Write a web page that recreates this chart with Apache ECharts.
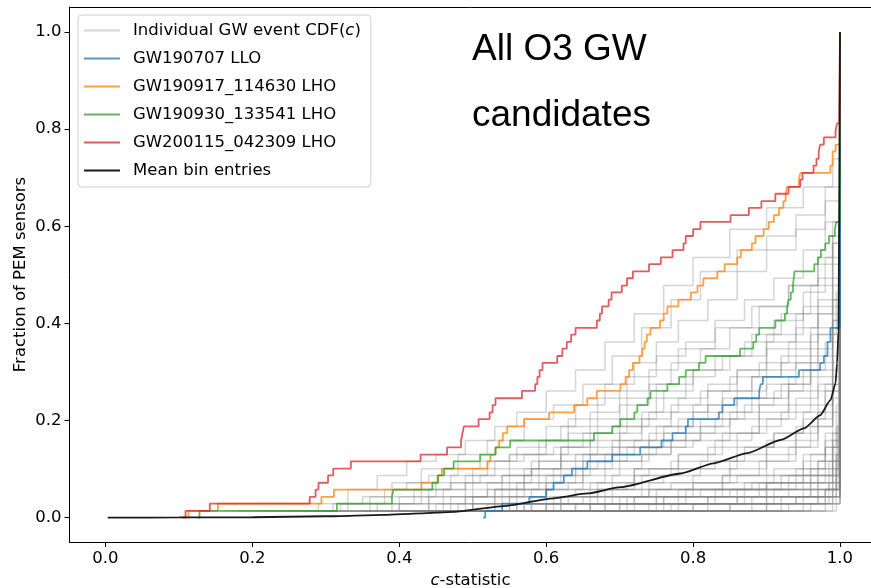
<!DOCTYPE html>
<html>
<head>
<meta charset="utf-8">
<script src="https://cdn.jsdelivr.net/npm/echarts@6/dist/echarts.min.js"></script>
<style>
html,body{margin:0;padding:0;background:#fff;overflow:hidden;}
#chart{width:871px;height:588px;}
</style>
</head>
<body>
<div id="chart"></div>
<script>
// ---------- data ----------
const xTicks = [0.0, 0.2, 0.4, 0.6, 0.8, 1.0];
const yTicks = [0.0, 0.2, 0.4, 0.6, 0.8, 1.0];
const legendNames = ['Individual GW event CDF(c)', 'GW190707 LLO', 'GW190917_114630 LHO', 'GW190930_133541 LHO', 'GW200115_042309 LHO', 'Mean bin entries'];
const annotationLines = ['All O3 GW', 'candidates'];

// individual event CDFs (flat lists: c, fraction, c, fraction, ...)
const grayEvents = [
  [0.16,.014, 0.29,.029, 0.33,.058, 0.37,.087, 0.41,.116, 0.45,.13, 0.49,.159, 0.53,.188, 0.56,.217, 0.6,.261, 0.64,.304, 0.68,.362, 0.72,.42, 0.76,.478, 0.8,.536, 0.85,.594, 0.9,.638, 0.95,.681, 0.99,.739, 1,1],
  [0.22,.014, 0.31,.029, 0.35,.043, 0.39,.072, 0.43,.101, 0.48,.13, 0.52,.159, 0.57,.203, 0.61,.232, 0.65,.275, 0.69,.333, 0.73,.391, 0.77,.449, 0.81,.507, 0.86,.551, 0.9,.58, 0.94,.623, 0.98,.681, 1,1],
  [0.25,.014, 0.36,.029, 0.42,.058, 0.47,.087, 0.52,.116, 0.56,.145, 0.6,.188, 0.64,.232, 0.68,.275, 0.72,.319, 0.75,.362, 0.78,.406, 0.82,.449, 0.86,.507, 0.9,.551, 0.94,.594, 0.98,.652, 1,1],
  [0.30,.014, 0.40,.043, 0.45,.072, 0.5,.101, 0.55,.13, 0.6,.159, 0.63,.203, 0.67,.246, 0.71,.29, 0.75,.333, 0.79,.362, 0.83,.406, 0.87,.449, 0.91,.493, 0.95,.551, 0.98,.609, 1,1],
  [0.33,.014, 0.44,.043, 0.49,.072, 0.54,.087, 0.58,.116, 0.62,.145, 0.66,.188, 0.7,.232, 0.74,.275, 0.77,.319, 0.81,.348, 0.85,.391, 0.89,.435, 0.93,.478, 0.97,.522, 0.99,.58, 1,1],
  [0.38,.014, 0.46,.043, 0.52,.072, 0.57,.101, 0.62,.13, 0.67,.174, 0.71,.203, 0.75,.246, 0.79,.29, 0.83,.333, 0.87,.362, 0.91,.406, 0.95,.464, 0.98,.536, 1,1],
  [0.18,.014, 0.33,.029, 0.36,.043, 0.38,.058, 0.41,.072, 0.44,.087, 0.48,.101, 0.51,.116, 0.55,.13, 0.59,.159, 0.62,.188, 0.66,.217, 0.7,.261, 0.74,.304, 0.78,.348, 0.83,.391, 0.88,.435, 0.93,.478, 0.97,.536, 0.99,.609, 1,1],
  [0.30,.014, 0.37,.029, 0.43,.043, 0.46,.058, 0.5,.072, 0.54,.087, 0.58,.101, 0.62,.116, 0.66,.145, 0.7,.174, 0.73,.217, 0.76,.261, 0.8,.304, 0.84,.333, 0.88,.377, 0.92,.42, 0.96,.478, 0.99,.565, 1,1],
  [0.35,.014, 0.47,.029, 0.53,.058, 0.59,.087, 0.64,.116, 0.69,.145, 0.74,.174, 0.78,.203, 0.82,.232, 0.86,.261, 0.9,.304, 0.94,.348, 0.97,.42, 1,1],
  [0.40,.014, 0.5,.043, 0.56,.072, 0.61,.087, 0.66,.13, 0.7,.159, 0.75,.188, 0.8,.217, 0.84,.246, 0.88,.29, 0.92,.333, 0.96,.391, 0.99,.478, 1,1],
  [0.42,.014, 0.52,.029, 0.58,.058, 0.63,.072, 0.68,.101, 0.73,.13, 0.77,.159, 0.81,.188, 0.85,.217, 0.89,.246, 0.93,.29, 0.97,.348, 0.99,.449, 1,1],
  [0.45,.014, 0.55,.043, 0.6,.058, 0.65,.087, 0.7,.116, 0.74,.145, 0.79,.174, 0.83,.203, 0.87,.232, 0.91,.261, 0.95,.304, 0.98,.362, 1,1],
  [0.47,.014, 0.57,.029, 0.62,.043, 0.67,.072, 0.72,.101, 0.77,.116, 0.82,.145, 0.86,.174, 0.9,.203, 0.94,.246, 0.97,.29, 0.99,.391, 1,1],
  [0.48,.014, 0.56,.029, 0.6,.043, 0.64,.058, 0.69,.087, 0.74,.101, 0.78,.13, 0.83,.159, 0.88,.188, 0.92,.217, 0.96,.261, 0.99,.319, 1,1],
  [0.50,.014, 0.58,.029, 0.63,.043, 0.68,.058, 0.73,.087, 0.78,.101, 0.83,.116, 0.87,.145, 0.91,.174, 0.95,.203, 0.98,.261, 1,1],
  [0.44,.014, 0.5,.029, 0.55,.058, 0.6,.087, 0.65,.116, 0.7,.13, 0.75,.145, 0.8,.159, 0.85,.174, 0.89,.203, 0.93,.232, 0.97,.275, 0.99,.333, 1,1],
  [0.52,.014, 0.6,.029, 0.66,.058, 0.71,.072, 0.76,.087, 0.81,.101, 0.86,.13, 0.9,.159, 0.94,.188, 0.97,.232, 0.99,.304, 1,1],
  [0.40,.014, 0.48,.029, 0.54,.043, 0.6,.058, 0.66,.072, 0.72,.101, 0.78,.13, 0.84,.174, 0.89,.217, 0.93,.275, 0.96,.333, 0.99,.406, 1,1],
  [0.55,.014, 0.62,.029, 0.68,.043, 0.74,.072, 0.8,.087, 0.85,.116, 0.9,.145, 0.94,.174, 0.97,.217, 0.99,.29, 1,1],
  [0.58,.014, 0.66,.029, 0.72,.043, 0.78,.058, 0.84,.087, 0.89,.116, 0.93,.145, 0.96,.188, 0.99,.261, 1,1],
  [0.45,.014, 0.62,.029, 0.75,.043, 0.85,.058, 0.92,.087, 0.96,.13, 0.99,.217, 1,1],
  [0.50,.014, 0.7,.029, 0.82,.043, 0.9,.072, 0.95,.101, 0.98,.159, 1,1],
  [0.47,.014, 0.58,.029, 0.7,.043, 0.8,.058, 0.88,.072, 0.94,.101, 0.98,.145, 0.995,.232, 1,1],
  [0.55,.014, 0.68,.029, 0.78,.043, 0.86,.058, 0.93,.072, 0.97,.116, 0.995,.188, 1,1],
  [0.60,.014, 0.75,.029, 0.87,.043, 0.95,.058, 0.985,.087, 0.998,.145, 1,1],
  [0.40,.014, 0.55,.029, 0.65,.043, 0.73,.058, 0.8,.072, 0.86,.087, 0.91,.101, 0.95,.13, 0.98,.174, 1,1],
  [0.48,.014, 0.6,.029, 0.72,.043, 0.83,.058, 0.9,.072, 0.96,.087, 0.99,.13, 1,1],
  [0.65,.014, 0.8,.029, 0.9,.043, 0.96,.058, 0.99,.101, 1,1],
  [0.52,.014, 0.66,.029, 0.79,.043, 0.89,.058, 0.95,.072, 0.99,.116, 1,1],
  [0.70,.014, 0.85,.029, 0.94,.043, 0.985,.072, 1,1],
  [0.46,.014, 0.53,.029, 0.61,.043, 0.69,.058, 0.77,.072, 0.84,.087, 0.9,.116, 0.94,.145, 0.97,.188, 0.99,.246, 1,1],
  [0.56,.014, 0.64,.029, 0.71,.043, 0.79,.058, 0.87,.072, 0.93,.087, 0.97,.116, 0.99,.174, 1,1],
  [0.62,.014, 0.72,.029, 0.82,.043, 0.9,.058, 0.96,.072, 0.99,.087, 1,1],
  [0.35,.014, 0.5,.029, 0.62,.043, 0.74,.058, 0.84,.072, 0.91,.087, 0.96,.101, 0.99,.159, 1,1],
  [0.50,.014, 0.85,.029, 0.97,.043, 0.995,.072, 1,1],
  [0.60,.014, 0.93,.029, 0.99,.058, 1,1],
  [0.70,.014, 0.96,.029, 0.995,.043, 1,1],
  [0.45,.014, 0.8,.029, 0.95,.043, 0.99,.058, 1,1],
  [0.80,.014, 0.98,.029, 1,1],
  [0.55,.014, 0.9,.029, 0.985,.043, 1,1],
  [0.90,.014, 0.995,.029, 1,1],
  [0.65,.014, 0.88,.029, 0.97,.043, 0.995,.087, 1,1],
  [0.75,.014, 0.95,.029, 0.99,.043, 1,1],
  [0.58,.014, 0.78,.029, 0.92,.043, 0.98,.058, 0.998,.101, 1,1],
  [0.85,.014, 0.99,.029, 1,1],
  [0.40,.014, 0.7,.029, 0.9,.043, 0.98,.058, 1,1],
  [0.48,.014, 0.66,.029, 0.86,.043, 0.96,.058, 0.995,.116, 1,1],
  [0.62,.014, 0.82,.029, 0.94,.043, 0.99,.072, 1,1],
  [0.53,.014, 0.74,.029, 0.88,.043, 0.97,.072, 0.995,.13, 1,1],
  [0.72,.014, 0.9,.029, 0.98,.043, 1,1],
  [0.43,.014, 0.6,.029, 0.76,.043, 0.87,.058, 0.94,.072, 0.98,.101, 0.997,.188, 1,1],
  [0.57,.014, 0.77,.029, 0.91,.043, 0.97,.058, 0.995,.101, 1,1],
  [0.38,.014, 0.45,.029, 0.5,.058, 0.55,.087, 0.59,.13, 0.63,.174, 0.67,.203, 0.71,.246, 0.75,.275, 0.8,.304, 0.85,.333, 0.9,.377, 0.95,.435, 0.99,.522, 1,1],
  [0.42,.014, 0.49,.043, 0.54,.072, 0.58,.101, 0.62,.145, 0.66,.159, 0.7,.188, 0.74,.217, 0.78,.246, 0.82,.275, 0.86,.304, 0.9,.348, 0.94,.391, 0.97,.449, 1,1],
  [0.28,.014, 0.39,.029, 0.44,.058, 0.49,.087, 0.53,.116, 0.57,.13, 0.61,.145, 0.65,.174, 0.69,.188, 0.73,.203, 0.77,.232, 0.81,.261, 0.85,.29, 0.89,.319, 0.93,.362, 0.97,.42, 0.99,.493, 1,1],
  [0.46,.014, 0.53,.043, 0.57,.058, 0.61,.072, 0.64,.101, 0.68,.13, 0.72,.159, 0.76,.188, 0.8,.232, 0.84,.261, 0.88,.29, 0.92,.319, 0.96,.377, 0.99,.435, 1,1],
  [0.50,.014, 0.56,.043, 0.6,.072, 0.65,.101, 0.69,.116, 0.73,.13, 0.77,.159, 0.81,.174, 0.85,.203, 0.89,.232, 0.93,.261, 0.96,.304, 0.99,.377, 1,1],
  [0.36,.014, 0.44,.029, 0.49,.043, 0.53,.058, 0.57,.072, 0.62,.101, 0.67,.116, 0.71,.145, 0.76,.174, 0.81,.203, 0.86,.246, 0.9,.275, 0.94,.319, 0.97,.377, 0.995,.464, 1,1],
  [0.54,.014, 0.61,.029, 0.67,.058, 0.72,.087, 0.77,.101, 0.81,.116, 0.86,.145, 0.91,.174, 0.95,.217, 0.98,.275, 1,1],
  [0.60,.014, 0.68,.029, 0.75,.058, 0.8,.072, 0.85,.101, 0.9,.13, 0.94,.159, 0.97,.203, 0.99,.275, 1,1],
  [0.20,.014, 0.32,.029, 0.38,.043, 0.43,.058, 0.47,.072, 0.51,.087, 0.55,.101, 0.59,.116, 0.64,.13, 0.69,.159, 0.73,.188, 0.77,.217, 0.82,.261, 0.86,.304, 0.9,.362, 0.94,.42, 0.97,.493, 0.99,.565, 1,1],
  [0.27,.014, 0.40,.029, 0.47,.043, 0.52,.058, 0.57,.087, 0.61,.101, 0.65,.13, 0.7,.145, 0.74,.159, 0.79,.188, 0.84,.217, 0.88,.246, 0.92,.275, 0.96,.319, 0.99,.406, 1,1],
  [0.51,.014, 0.64,.029, 0.76,.043, 0.84,.058, 0.9,.087, 0.95,.116, 0.98,.145, 1,1],
  [0.44,.014, 0.57,.029, 0.69,.043, 0.81,.058, 0.89,.072, 0.95,.087, 0.985,.116, 1,1],
  [0.66,.014, 0.76,.029, 0.86,.043, 0.93,.058, 0.97,.087, 0.995,.13, 1,1],
  [0.59,.014, 0.71,.029, 0.83,.043, 0.91,.058, 0.96,.087, 0.99,.145, 1,1],
  [0.78,.014, 0.92,.029, 0.98,.058, 1,1]
];

const gw190707LLO = [[0.514,0],[0.517,0.014],[0.54,0.029],[0.577,0.043],[0.6,0.058],[0.61,0.072],[0.624,0.087],[0.635,0.101],[0.656,0.116],[0.69,0.13],[0.728,0.145],[0.757,0.159],[0.772,0.174],[0.79,0.188],[0.793,0.203],[0.835,0.217],[0.84,0.232],[0.856,0.246],[0.89,0.261],[0.892,0.275],[0.895,0.29],[0.944,0.304],[0.973,0.319],[0.978,0.333],[0.983,0.362],[0.987,0.391],[1.0,1.0]];

const gw190917LHO = [[0.11,0],[0.113,0.014],[0.153,0.029],[0.294,0.043],[0.311,0.058],[0.43,0.072],[0.452,0.087],[0.458,0.101],[0.52,0.116],[0.524,0.13],[0.531,0.145],[0.536,0.159],[0.541,0.174],[0.547,0.188],[0.57,0.203],[0.604,0.217],[0.638,0.232],[0.656,0.246],[0.669,0.261],[0.701,0.275],[0.708,0.29],[0.713,0.304],[0.718,0.319],[0.727,0.333],[0.731,0.348],[0.734,0.362],[0.737,0.377],[0.742,0.391],[0.755,0.406],[0.76,0.42],[0.765,0.435],[0.78,0.449],[0.797,0.464],[0.806,0.478],[0.814,0.493],[0.833,0.507],[0.843,0.522],[0.86,0.536],[0.865,0.551],[0.88,0.565],[0.885,0.58],[0.896,0.594],[0.903,0.609],[0.91,0.623],[0.917,0.638],[0.923,0.652],[0.926,0.667],[0.928,0.681],[0.944,0.696],[0.946,0.71],[0.987,0.725],[0.99,0.754],[0.994,0.768],[1.0,1.0]];

const gw190930LHO = [[0.125,0],[0.128,0.014],[0.315,0.029],[0.39,0.043],[0.392,0.058],[0.445,0.072],[0.453,0.087],[0.461,0.101],[0.474,0.116],[0.51,0.13],[0.531,0.145],[0.551,0.159],[0.665,0.174],[0.69,0.188],[0.701,0.203],[0.72,0.217],[0.724,0.232],[0.738,0.246],[0.742,0.261],[0.765,0.275],[0.781,0.29],[0.79,0.304],[0.808,0.319],[0.817,0.333],[0.864,0.348],[0.882,0.362],[0.886,0.377],[0.89,0.391],[0.912,0.406],[0.925,0.42],[0.928,0.435],[0.93,0.449],[0.933,0.464],[0.936,0.478],[0.937,0.493],[0.938,0.507],[0.965,0.522],[0.97,0.536],[0.974,0.551],[0.98,0.565],[0.985,0.58],[0.993,0.594],[0.995,0.609],[1.0,1.0]];

const gw200115LHO = [[0.104,0],[0.109,0.014],[0.142,0.029],[0.278,0.043],[0.286,0.058],[0.29,0.072],[0.303,0.087],[0.31,0.101],[0.334,0.116],[0.429,0.13],[0.465,0.145],[0.484,0.159],[0.486,0.174],[0.488,0.188],[0.508,0.203],[0.523,0.217],[0.527,0.232],[0.531,0.246],[0.567,0.261],[0.585,0.275],[0.588,0.29],[0.591,0.304],[0.595,0.319],[0.615,0.333],[0.622,0.348],[0.628,0.362],[0.634,0.377],[0.64,0.391],[0.669,0.406],[0.673,0.42],[0.676,0.435],[0.685,0.449],[0.689,0.464],[0.703,0.478],[0.71,0.493],[0.718,0.507],[0.74,0.522],[0.756,0.536],[0.772,0.551],[0.787,0.565],[0.79,0.58],[0.8,0.594],[0.81,0.609],[0.851,0.623],[0.876,0.638],[0.893,0.652],[0.912,0.667],[0.93,0.681],[0.946,0.696],[0.949,0.71],[0.964,0.725],[0.968,0.739],[0.971,0.754],[0.973,0.768],[0.978,0.783],[0.994,0.797],[0.996,0.812],[0.999,0.826],[1.0,1.0]];

const meanBinEntries = [[0.003,0],[0.1,0.0005],[0.2,0.001],[0.3,0.003],[0.38,0.006],[0.429,0.009],[0.474,0.012],[0.542,0.024],[0.61,0.04],[0.656,0.05],[0.701,0.063],[0.783,0.091],[0.828,0.112],[0.874,0.133],[0.919,0.16],[0.951,0.184],[0.973,0.211],[0.987,0.242],[0.994,0.277],[0.996,0.318],[0.998,0.386],[1.0,1.0]];

// ---------- chart ----------
const FONT = '"DejaVu Sans", sans-serif';
const FS = 16.5;
const X_MIN = -0.049, X_MAX = 1.0429, Y_MIN = -0.05, Y_MAX = 1.0515;
const toPairs = flat => { const out = []; for (let i = 0; i + 1 < flat.length; i += 2) out.push([flat[i], flat[i + 1]]); return out; };

const series = [];
grayEvents.forEach(ev => {
  series.push({
    name: legendNames[0], type: 'line', step: 'end', data: toPairs(ev),
    showSymbol: false, symbol: 'none', silent: true, z: 1,
    itemStyle: { color: 'rgba(128,128,128,0.33)' },
    lineStyle: { color: 'rgba(128,128,128,0.33)', width: 1.5 }
  });
});
const colored = [
  [legendNames[1], gw190707LLO, '#1f77b4'],
  [legendNames[2], gw190917LHO, '#ff7f0e'],
  [legendNames[3], gw190930LHO, '#2ca02c'],
  [legendNames[4], gw200115LHO, '#d62728']
];
colored.forEach(([name, data, color]) => {
  series.push({
    name, type: 'line', step: 'end', data, showSymbol: false, symbol: 'none', z: 3,
    itemStyle: { color }, lineStyle: { color, width: 1.8, opacity: 0.75 }
  });
});
series.push({
  name: legendNames[5], type: 'line', data: meanBinEntries, showSymbol: false, symbol: 'none', z: 4,
  smooth: 0.2, smoothMonotone: 'x',
  itemStyle: { color: '#1a1a1a' }, lineStyle: { color: '#1a1a1a', width: 1.8 }
});

const spine = { show: true, onZero: false, lineStyle: { color: '#000', width: 1 } };
const chart = echarts.init(document.getElementById('chart'), null, { renderer: 'canvas' });
chart.setOption({
  animation: false,
  backgroundColor: '#fff',
  grid: { left: 69.5, top: 7, width: 802, height: 535, show: false, containLabel: false, outerBoundsMode: 'none' },
  xAxis: [{
    type: 'value', min: X_MIN, max: X_MAX, position: 'bottom',
    axisLine: spine, splitLine: { show: false },
    axisTick: { show: true, customValues: xTicks, length: 5, lineStyle: { color: '#000' } },
    axisLabel: { customValues: xTicks, formatter: v => v.toFixed(1), fontSize: FS, fontFamily: FONT, color: '#000', margin: 8 },
    name: '{i|c}-statistic', nameLocation: 'middle', nameGap: 30,
    nameTextStyle: { fontSize: FS, fontFamily: FONT, color: '#000', rich: { i: { fontStyle: 'italic', fontSize: FS, fontFamily: FONT, color: '#000' } } }
  }, {
    type: 'value', min: X_MIN, max: X_MAX, position: 'top',
    axisLine: spine, axisTick: { show: false }, axisLabel: { show: false }, splitLine: { show: false }
  }],
  yAxis: {
    type: 'value', min: Y_MIN, max: Y_MAX,
    axisLine: spine, splitLine: { show: false },
    axisTick: { show: true, customValues: yTicks, length: 5, lineStyle: { color: '#000' } },
    axisLabel: { customValues: yTicks, formatter: v => v.toFixed(1), fontSize: FS, fontFamily: FONT, color: '#000', margin: 8 },
    name: 'Fraction of PEM sensors', nameLocation: 'middle', nameGap: 40, nameMoveOverlap: false,
    nameTextStyle: { fontSize: FS, fontFamily: FONT, color: '#000' }
  },
  legend: {
    left: 78, top: 15, orient: 'vertical', data: legendNames,
    itemWidth: 36, itemHeight: 14, itemGap: 11, padding: [7, 10, 8, 5],
    backgroundColor: 'rgba(255,255,255,0.85)', borderColor: '#d0d0d0', borderWidth: 1, borderRadius: 4,
    selectedMode: false,
    itemStyle: { opacity: 0 },
    formatter: name => name === legendNames[0] ? 'Individual GW event CDF({i|c})' : name,
    textStyle: { fontSize: FS, fontFamily: FONT, color: '#000', padding: [0, 0, 0, 8],
      rich: { i: { fontStyle: 'italic', fontSize: FS, fontFamily: FONT, color: '#000' } } }
  },
  graphic: [
    { type: 'text', left: 472, top: 31, z: 10, style: { text: annotationLines[0], font: '37px "Liberation Sans", Arial, sans-serif', fill: '#000' } },
    { type: 'text', left: 472, top: 97, z: 10, style: { text: annotationLines[1], font: '37px "Liberation Sans", Arial, sans-serif', fill: '#000' } }
  ],
  series
});
</script>
</body>
</html>
